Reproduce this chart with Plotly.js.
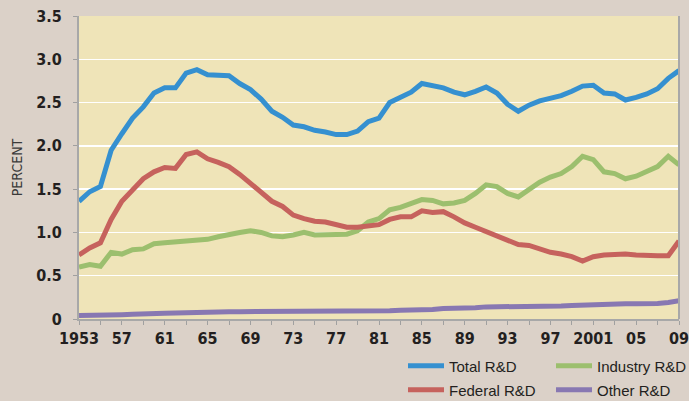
<!DOCTYPE html>
<html>
<head>
<meta charset="utf-8">
<script src="https://cdn.plot.ly/plotly-3.0.1.min.js"></script>
<style>
html,body{margin:0;padding:0;background:#dbd1c8;}
#chart{width:689px;height:401px;}
</style>
</head>
<body>
<div id="chart"></div>
<script>
const years = [];
for (let y = 1953; y <= 2009; y++) years.push(y);

const totalRD = [1.36,1.47,1.53,1.95,2.14,2.32,2.45,2.61,2.67,2.67,2.84,2.88,2.82,2.81,2.81,
  2.72,2.65,2.54,2.40,2.33,2.24,2.22,2.18,2.16,2.13,2.13,2.17,2.28,2.32,
  2.50,2.56,2.62,2.72,2.70,2.67,2.62,2.59,2.63,2.68,2.61,2.48,2.40,
  2.47,2.52,2.55,2.58,2.63,2.69,2.70,2.61,2.60,2.53,2.56,2.60,2.66,2.78,2.87];

const federalRD = [0.74,0.82,0.88,1.15,1.36,1.50,1.62,1.70,1.75,1.74,1.90,1.93,1.85,1.81,1.76,
  1.67,1.57,1.46,1.36,1.30,1.20,1.16,1.13,1.12,1.09,1.06,1.06,1.08,1.09,
  1.15,1.18,1.18,1.25,1.23,1.24,1.18,1.11,1.06,1.01,0.95,0.90,0.86,
  0.85,0.81,0.77,0.75,0.72,0.67,0.72,0.74,0.75,0.75,0.74,0.73,0.73,0.73,0.90];

const industryRD = [0.60,0.63,0.61,0.77,0.75,0.80,0.81,0.87,0.88,0.89,0.90,0.90,0.92,0.95,0.98,
  1.00,1.02,1.00,0.96,0.95,0.97,1.00,0.97,0.97,0.97,0.98,1.02,1.12,1.16,
  1.26,1.29,1.34,1.38,1.37,1.33,1.34,1.37,1.45,1.55,1.53,1.45,1.41,
  1.49,1.58,1.64,1.68,1.76,1.88,1.84,1.70,1.68,1.62,1.65,1.70,1.76,1.88,1.78];

const otherRD = [0.04,0.04,0.04,0.045,0.05,0.055,0.055,0.06,0.065,0.07,0.075,0.075,0.08,0.08,0.085,
  0.085,0.085,0.09,0.09,0.09,0.085,0.085,0.085,0.085,0.085,0.085,0.09,0.09,0.09,
  0.095,0.10,0.10,0.10,0.11,0.12,0.12,0.13,0.13,0.14,0.14,0.14,0.14,
  0.14,0.145,0.15,0.15,0.155,0.16,0.17,0.175,0.18,0.175,0.175,0.175,0.18,0.19,0.21];

const xTickVals = [];
const xTickText = [];
const xLabels = {1953:'1953',1957:'57',1961:'61',1965:'65',1969:'69',1973:'73',1977:'77',
  1981:'81',1985:'85',1989:'89',1993:'93',1997:'97',2001:'2001',2005:'05',2009:'09'};
for (let y = 1953; y <= 2009; y += 2) { xTickVals.push(y); xTickText.push(xLabels[y] || ''); }

const yTickVals = [0,0.5,1.0,1.5,2.0,2.5,3.0,3.5];
const yTickText = ['0','0.5','1.0','1.5','2.0','2.5','3.0','3.5'];

const seriesNames = ['Total R&D','Federal R&D','Industry R&D','Other R&D'];
const seriesData = [totalRD, federalRD, industryRD, otherRD];
const seriesColors = ['#3590d0','#c6625d','#9cbf6e','#8878b2'];
const seriesLegends = ['legend','legend2','legend3','legend4'];

const traces = seriesData.map((d,i) => ({
  x: years, y: d, type: 'scatter', mode: 'lines', name: seriesNames[i],
  line: {color: seriesColors[i], width: 5},
  legend: seriesLegends[i]
}));
const ordered = [traces[3], traces[2], traces[1], traces[0]];

const narrow = '"Liberation Sans Narrow", "DejaVu Sans Condensed", "Arial Narrow", sans-serif';
const legFont = {family: '"Liberation Sans", Arial, sans-serif', size: 15, color: '#231f20'};
function leg(x, y) {
  return {x: x, y: y, xref: 'container', yref: 'container', xanchor: 'left', yanchor: 'middle',
    bgcolor: 'rgba(0,0,0,0)', borderwidth: 0, font: legFont, orientation: 'v', itemwidth: 36};
}

const layout = {
  width: 689, height: 401,
  paper_bgcolor: '#dbd1c8', plot_bgcolor: '#efe4b8',
  margin: {l: 79, r: 10, t: 16, b: 82, autoexpand: false},
  showlegend: true,
  xaxis: {
    range: [1953, 2009], tickmode: 'array', tickvals: xTickVals, ticktext: xTickText,
    ticks: 'outside', ticklen: 4, tickcolor: '#a0a0a0', tickwidth: 1, tickangle: 0,
    showline: true, linecolor: '#a8a8a8', linewidth: 2, ticklabeloverflow: 'allow',
    showgrid: false, zeroline: false, automargin: false,
    tickfont: {family: narrow, size: 16, color: '#231f20', weight: 'bold'}
  },
  yaxis: {
    range: [0, 3.5], tickmode: 'array', tickvals: yTickVals, ticktext: yTickText,
    ticks: 'outside', ticklen: 4, tickcolor: '#a0a0a0', tickwidth: 1,
    showline: true, linecolor: '#a8a8a8', linewidth: 2,
    showgrid: true, gridcolor: '#ffffff', gridwidth: 1.5, zeroline: false,
    ticklabelstandoff: 8, automargin: false,
    tickfont: {family: narrow, size: 16, color: '#231f20', weight: 'bold'},
    title: {text: 'PERCENT', standoff: 10, font: {family: narrow, size: 14, color: '#3a3a3a'}}
  },
  shapes: [{type: 'line', xref: 'paper', yref: 'paper', x0: 1, x1: 1, y0: 0, y1: 1,
    line: {color: '#a8a8a8', width: 2}}],
  legend: leg(403/689, 1 - 366/401),
  legend2: leg(403/689, 1 - 390/401),
  legend3: leg(551/689, 1 - 366/401),
  legend4: leg(551/689, 1 - 390/401)
};

Plotly.newPlot('chart', ordered, layout, {staticPlot: true, displayModeBar: false});
</script>
</body>
</html>
